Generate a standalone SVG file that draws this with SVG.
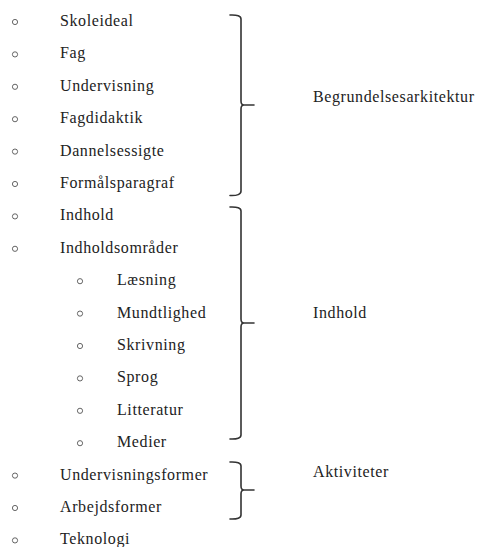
<svg xmlns="http://www.w3.org/2000/svg" width="478" height="547" viewBox="0 0 478 547">
<style>
text{font-family:'Liberation Serif','Times New Roman',serif;font-size:16px;fill:#222;letter-spacing:0.6px}
.b{fill:none;stroke:#555;stroke-width:0.9}
.br{fill:none;stroke:#333;stroke-width:1.6;stroke-linecap:round;stroke-linejoin:round}
</style>
<rect width="478" height="547" fill="#fff"/>
<g id="items">
<g id="n1"><circle class="b" cx="15" cy="22" r="2.6"/><text x="60" y="26">Skoleideal</text></g>
<g id="n2"><circle class="b" cx="15" cy="54.4" r="2.6"/><text x="60" y="58.4">Fag</text></g>
<g id="n3"><circle class="b" cx="15" cy="86.8" r="2.6"/><text x="60" y="90.8">Undervisning</text></g>
<g id="n4"><circle class="b" cx="15" cy="119.2" r="2.6"/><text x="60" y="123.2">Fagdidaktik</text></g>
<g id="n5"><circle class="b" cx="15" cy="151.6" r="2.6"/><text x="60" y="155.6">Dannelsessigte</text></g>
<g id="n6"><circle class="b" cx="15" cy="184" r="2.6"/><text x="60" y="188">Formålsparagraf</text></g>
<g id="n7"><circle class="b" cx="15" cy="216.4" r="2.6"/><text x="60" y="220.4">Indhold</text></g>
<g id="n8"><circle class="b" cx="15" cy="248.8" r="2.6"/><text x="60" y="252.8">Indholdsområder</text></g>
<g id="n9"><circle class="b" cx="80" cy="281.2" r="2.6"/><text x="117" y="285.2">Læsning</text></g>
<g id="n10"><circle class="b" cx="80" cy="313.6" r="2.6"/><text x="117" y="317.6">Mundtlighed</text></g>
<g id="n11"><circle class="b" cx="80" cy="346" r="2.6"/><text x="117" y="350">Skrivning</text></g>
<g id="n12"><circle class="b" cx="80" cy="378.4" r="2.6"/><text x="117" y="382.4">Sprog</text></g>
<g id="n13"><circle class="b" cx="80" cy="410.8" r="2.6"/><text x="117" y="414.8">Litteratur</text></g>
<g id="n14"><circle class="b" cx="80" cy="443.2" r="2.6"/><text x="117" y="447.2">Medier</text></g>
<g id="n15"><circle class="b" cx="15" cy="475.6" r="2.6"/><text x="60" y="479.6">Undervisningsformer</text></g>
<g id="n16"><circle class="b" cx="15" cy="508" r="2.6"/><text x="60" y="512">Arbejdsformer</text></g>
<g id="n17"><circle class="b" cx="15" cy="540.4" r="2.6"/><text x="60" y="544.4">Teknologi</text></g>
</g>
<g id="connectors">
<path class="br" d="M230 15 Q241 14.5 241 19 V101 Q241 105 244 105 H254 M244 105 Q241 105 241 109 V191 Q241 196 230 195.5"/>
<path class="br" d="M230 207 Q241 206.5 241 211 V319 Q241 323 244 323 H254 M244 323 Q241 323 241 327 V435 Q241 439.5 230 439"/>
<path class="br" d="M230 462 Q241 461.5 241 466 V486 Q241 490 244 490 H254 M244 490 Q241 490 241 494 V515 Q241 519.5 230 519"/>
</g>
<g id="labels">
<g id="l1"><text x="313" y="101.5">Begrundelsesarkitektur</text></g>
<g id="l2"><text x="313" y="318">Indhold</text></g>
<g id="l3"><text x="313" y="477">Aktiviteter</text></g>
</g>
</svg>
